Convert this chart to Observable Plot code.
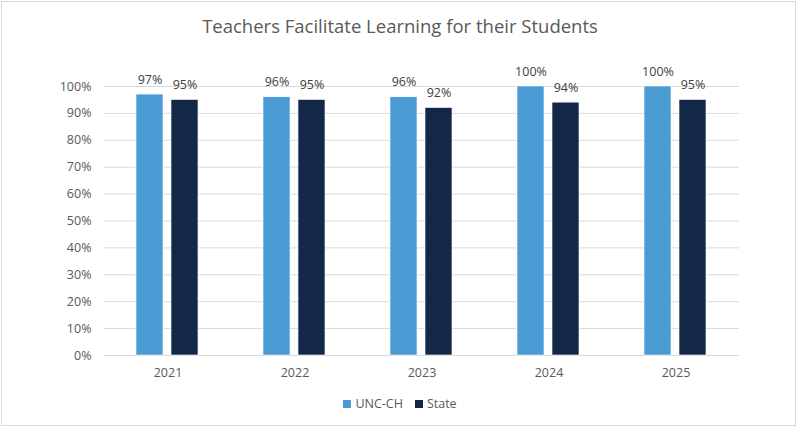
<!DOCTYPE html>
<html>
<head>
<meta charset="utf-8">
<script src="https://cdn.jsdelivr.net/npm/d3@7"></script>
<script src="https://cdn.jsdelivr.net/npm/@observablehq/plot@0.6"></script>
<style>
  html, body { margin: 0; padding: 0; background: #fff; }
  #wrap { position: relative; width: 800px; height: 430px; overflow: hidden; font-family: "Open Sans", sans-serif; }
  #frame { position: absolute; left: 1px; top: 1px; width: 795px; height: 425px; border: 1px solid #D9D9D9; box-sizing: border-box; }
  #title { position: absolute; left: 0; width: 800px; top: 13px; text-align: center; font-size: 18.5px; color: #595959; }
  #legend { position: absolute; left: 0; width: 800px; top: 395px; text-align: center; font-size: 12.5px; color: #595959; }
  #legend span.sw { display: inline-block; width: 8px; height: 8px; margin-right: 4px; vertical-align: 0px; }
  #legend span.item { margin: 0 6px; }
  #chart { position: absolute; left: 0; top: 0; }
</style>
</head>
<body>
<div id="wrap">
  <div id="frame"></div>
  <div id="chart"></div>
  <div id="title">Teachers Facilitate Learning for their Students</div>
  <div id="legend"></div>
</div>
<script>
const years = ["2021", "2022", "2023", "2024", "2025"];
const seriesNames = ["UNC-CH", "State"];
const uncValues = [0.97, 0.96, 0.96, 1.00, 1.00];
const stateValues = [0.95, 0.95, 0.92, 0.94, 0.95];
const colors = ["#4A9BD4", "#132849"];
const yTicks = [0, 0.1, 0.2, 0.3, 0.4, 0.5, 0.6, 0.7, 0.8, 0.9, 1.0];

const data = [];
years.forEach((y, i) => {
  data.push({year: y, series: seriesNames[0], value: uncValues[i]});
  data.push({year: y, series: seriesNames[1], value: stateValues[i]});
});

const chart = Plot.plot({
  width: 800,
  height: 430,
  marginLeft: 102,
  marginRight: 60,
  marginTop: 86,
  marginBottom: 75,
  style: {fontFamily: "'Open Sans', sans-serif", fontSize: "12.5px", color: "#595959", background: "transparent"},
  fx: {domain: years, padding: 0, label: null, axis: "bottom", tickSize: 0, tickPadding: 13},
  x: {domain: seriesNames, paddingInner: 8 / 36, paddingOuter: 0.883, axis: null},
  y: {domain: [0, 1], axis: null},
  color: {domain: seriesNames, range: colors},
  marks: [
    Plot.gridY(yTicks, {stroke: "#D9D9D9", strokeOpacity: 1, strokeWidth: 1, facetAnchor: null}),
    Plot.axisY(yTicks, {tickFormat: d3.format(".0%"), tickSize: 0, tickPadding: 13, label: null, fill: "#595959", fontSize: 12.5, facetAnchor: "left"}),
    Plot.barY(data, {fx: "year", x: "series", y: "value", fill: "series", stroke: "#ffffff", strokeWidth: 0.6}),
    Plot.text(data, {fx: "year", x: "series", y: "value", text: d => d3.format(".0%")(d.value), dy: -15, fill: "#404040", fontSize: 12.5})
  ]
});
document.getElementById("chart").appendChild(chart);

const legend = document.getElementById("legend");
seriesNames.forEach((s, i) => {
  const item = document.createElement("span");
  item.className = "item";
  const sw = document.createElement("span");
  sw.className = "sw";
  sw.style.background = colors[i];
  item.appendChild(sw);
  item.appendChild(document.createTextNode(s));
  legend.appendChild(item);
});
</script>
</body>
</html>
